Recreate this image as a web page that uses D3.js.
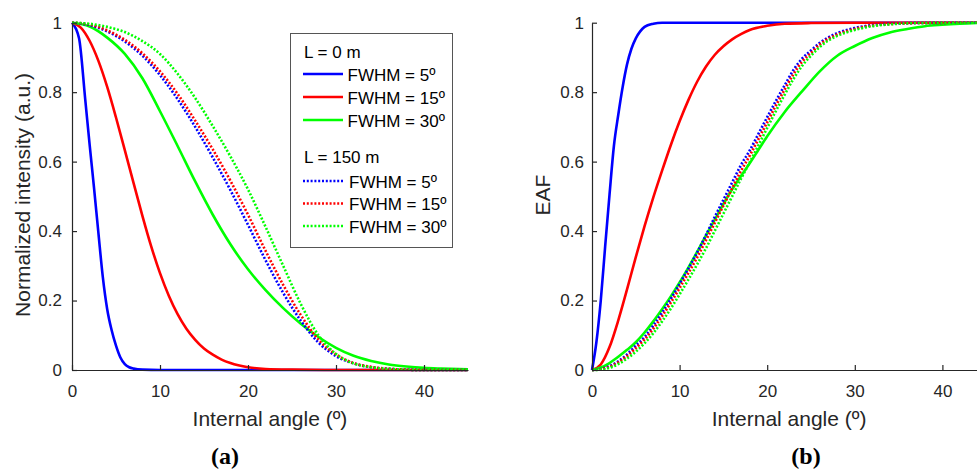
<!DOCTYPE html>
<html>
<head>
<meta charset="utf-8">
<script src="https://cdn.jsdelivr.net/npm/d3@7"></script>
<style>
  body { margin: 0; background: #fff; }
  svg { display: block; }
</style>
</head>
<body>
<div id="chart"></div>
<script>
// ---- data ----
const xTicks = [0, 10, 20, 30, 40];
const yTicks = [0, 0.2, 0.4, 0.6, 0.8, 1];

// (a) normalized intensity vs internal angle, [angle, value]
const intL0_5 = [[0,1],[0.8,0.955],[1.5,0.78],[2,0.65],[2.5,0.525],[3,0.395],[3.5,0.268],[4,0.175],[4.5,0.115],[5,0.07],[5.5,0.036],[6,0.017],[6.5,0.008],[7,0.004],[8,0.001],[10,0],[45,0]];
const intL0_15 = [[0,1],[1,0.986],[2,0.948],[3,0.89],[4,0.815],[5,0.727],[6,0.633],[7,0.538],[8,0.444],[9,0.356],[10,0.279],[11,0.214],[12,0.161],[13,0.119],[14,0.087],[15,0.062],[16,0.044],[17,0.03],[18,0.02],[20,0.008],[22,0.003],[25,0.001],[30,0],[45,0]];
const intL0_30 = [[0,1],[2,0.989],[4,0.957],[6,0.91],[8,0.84],[10,0.745],[12,0.645],[14,0.543],[16,0.447],[18,0.362],[20,0.29],[22,0.23],[24,0.178],[26,0.133],[28,0.095],[30,0.064],[32,0.041],[34,0.026],[36,0.016],[38,0.01],[40,0.006],[42,0.004],[45,0.002]];
const intL150_5 = [[0,1],[2,0.993],[4,0.975],[6,0.946],[8,0.905],[10,0.849],[12,0.78],[14,0.7],[16,0.612],[18,0.518],[20,0.418],[22,0.316],[24,0.222],[26,0.142],[28,0.079],[30,0.04],[32,0.019],[34,0.008],[37,0.002],[40,0],[45,0]];
const intL150_15 = [[0,1],[2,0.995],[4,0.978],[6,0.951],[8,0.912],[10,0.86],[12,0.795],[14,0.718],[16,0.635],[18,0.545],[20,0.447],[22,0.343],[24,0.245],[26,0.158],[28,0.088],[30,0.045],[32,0.02],[34,0.009],[37,0.002],[40,0],[45,0]];
const intL150_30 = [[0,1],[2,0.997],[4,0.988],[6,0.973],[8,0.947],[10,0.91],[12,0.853],[14,0.783],[16,0.702],[18,0.615],[20,0.52],[22,0.412],[24,0.3],[26,0.19],[28,0.1],[30,0.046],[32,0.019],[34,0.008],[37,0.002],[40,0],[45,0]];

// (b) EAF vs internal angle, [angle, value]
const eafL0_5 = [[0,0],[0.5,0.08],[1,0.2],[1.5,0.355],[2,0.505],[2.5,0.645],[3,0.735],[3.5,0.815],[4,0.88],[4.5,0.925],[5,0.955],[5.5,0.975],[6,0.988],[7,0.997],[8,1],[45,1]];
const eafL0_15 = [[0,0],[1,0.016],[2,0.066],[3,0.143],[4,0.232],[5,0.325],[6,0.414],[7,0.497],[8,0.574],[9,0.648],[10,0.716],[11,0.777],[12,0.83],[13,0.873],[14,0.907],[15,0.932],[16,0.952],[17,0.967],[18,0.979],[20,0.991],[22,0.997],[25,0.999],[30,1],[45,1]];
const eafL0_30 = [[0,0],[1,0.007],[2,0.02],[3,0.038],[4,0.058],[5,0.08],[6,0.108],[7,0.14],[8,0.175],[9,0.212],[10,0.252],[11,0.295],[12,0.34],[13,0.387],[14,0.432],[15,0.478],[16,0.52],[17,0.558],[18,0.595],[19,0.634],[20,0.673],[22,0.743],[24,0.803],[26,0.86],[28,0.905],[30,0.933],[32,0.956],[34,0.972],[36,0.982],[38,0.99],[40,0.994],[42,0.997],[45,1]];
const eafL150_5 = [[0,0],[1,0.003],[2,0.011],[3,0.025],[4,0.045],[5,0.07],[6,0.095],[7,0.128],[8,0.165],[9,0.205],[10,0.248],[11,0.292],[12,0.338],[13,0.388],[14,0.44],[15,0.49],[16,0.54],[17,0.59],[18,0.632],[19,0.68],[20,0.728],[21,0.775],[22,0.82],[23,0.864],[24,0.897],[25,0.92],[26,0.942],[27,0.958],[28,0.97],[30,0.985],[32,0.993],[34,0.997],[37,0.999],[45,1]];
const eafL150_15 = [[0,0],[1,0.002],[2,0.009],[3,0.022],[4,0.04],[5,0.063],[6,0.088],[7,0.119],[8,0.155],[9,0.194],[10,0.236],[11,0.279],[12,0.324],[13,0.373],[14,0.423],[15,0.473],[16,0.523],[17,0.573],[18,0.617],[19,0.665],[20,0.713],[21,0.762],[22,0.808],[23,0.852],[24,0.888],[25,0.913],[26,0.937],[27,0.954],[28,0.966],[30,0.982],[32,0.992],[34,0.996],[37,0.999],[45,1]];
const eafL150_30 = [[0,0],[1,0.001],[2,0.006],[3,0.017],[4,0.033],[5,0.053],[6,0.077],[7,0.106],[8,0.14],[9,0.177],[10,0.218],[11,0.26],[12,0.304],[13,0.35],[14,0.4],[15,0.45],[16,0.5],[17,0.55],[18,0.598],[19,0.647],[20,0.697],[21,0.746],[22,0.793],[23,0.838],[24,0.876],[25,0.905],[26,0.93],[27,0.949],[28,0.962],[30,0.979],[32,0.99],[34,0.995],[37,0.999],[45,1]];

const seriesNames = ["FWHM = 5º", "FWHM = 15º", "FWHM = 30º"];
const groupNames = ["L = 0 m", "L = 150 m"];
const colors = ["#0000ff", "#ff0000", "#00ff00"];

const W = 977, H = 470;
const FONT = "'Liberation Sans', Arial, sans-serif";
const INK = "#262626";

const svg = d3.select("#chart").append("svg")
    .attr("width", W)
    .attr("height", H);

function drawPanel(opts) {
    let x = d3.scaleLinear().domain([0, 45]).range([opts.left, opts.left + 45 * opts.pxPerDeg]);
    let y = d3.scaleLinear().domain([0, 1]).range([370, 22.7]);

    let g = svg.append("g");

    let line = d3.line()
        .x(d => x(d[0]))
        .y(d => y(d[1]))
        .curve(d3.curveMonotoneX);

    opts.solid.forEach((s, i) => {
        g.append("path")
            .datum(s)
            .attr("fill", "none")
            .attr("stroke", colors[i])
            .attr("stroke-width", 2.6)
            .attr("d", line);
    });
    opts.dotted.forEach((s, i) => {
        g.append("path")
            .datum(s)
            .attr("fill", "none")
            .attr("stroke", colors[i])
            .attr("stroke-width", 2.6)
            .attr("stroke-dasharray", "2,1.8")
            .attr("d", line);
    });

    // axes, MATLAB style ticks pointing inward
    let xAxis = d3.axisBottom(x).tickValues(xTicks).tickSizeInner(-5).tickSizeOuter(0).tickPadding(15);
    let yAxis = d3.axisLeft(y).tickValues(yTicks).tickSizeInner(-5).tickSizeOuter(0)
        .tickPadding(opts.yPad).tickFormat(d3.format("~g"));

    let gx = g.append("g").attr("transform", "translate(0,370)").call(xAxis);
    let gy = g.append("g").attr("transform", "translate(" + opts.left + ",0)").call(yAxis);

    [gx, gy].forEach(a => {
        a.select(".domain").attr("stroke", INK).attr("stroke-width", 1.2);
        a.selectAll(".tick line").attr("stroke", INK).attr("stroke-width", 1.2);
        a.selectAll(".tick text")
            .attr("fill", INK)
            .style("font-family", FONT)
            .style("font-size", "17px");
    });

    g.append("text")
        .attr("x", (x.range()[0] + x.range()[1]) / 2)
        .attr("y", 426)
        .attr("text-anchor", "middle")
        .attr("fill", INK)
        .style("font-family", FONT)
        .style("font-size", "21px")
        .text("Internal angle (º)");

    g.append("text")
        .attr("transform", "translate(" + opts.yLabelX + ",195) rotate(-90)")
        .attr("text-anchor", "middle")
        .attr("fill", INK)
        .style("font-family", FONT)
        .style("font-size", "21px")
        .text(opts.yLabel);

    g.append("text")
        .attr("x", opts.capX)
        .attr("y", 464)
        .attr("text-anchor", "middle")
        .attr("fill", "#000")
        .style("font-family", "'Liberation Serif', 'DejaVu Serif', serif")
        .style("font-weight", "700")
        .style("font-size", "24px")
        .text(opts.caption);
}

drawPanel({
    left: 72, pxPerDeg: 8.8, yPad: 10,
    solid: [intL0_5, intL0_15, intL0_30],
    dotted: [intL150_5, intL150_15, intL150_30],
    yLabel: "Normalized intensity (a.u.)", yLabelX: 29.5,
    caption: "(a)", capX: 225
});

drawPanel({
    left: 592, pxPerDeg: 8.76, yPad: 8,
    solid: [eafL0_5, eafL0_15, eafL0_30],
    dotted: [eafL150_5, eafL150_15, eafL150_30],
    yLabel: "EAF", yLabelX: 550,
    caption: "(b)", capX: 806
});

// legend of panel (a)
let legend = svg.append("g");
legend.append("rect")
    .attr("x", 290.5).attr("y", 33.5)
    .attr("width", 162).attr("height", 214)
    .attr("fill", "#fff")
    .attr("stroke", "#555")
    .attr("stroke-width", 1);

let rowY = [[58, 74, 97, 120], [163, 181, 203.5, 226]];
groupNames.forEach((name, gi) => {
    legend.append("text")
        .attr("x", 304).attr("y", rowY[gi][0] + 0.3)
        .style("font-family", FONT)
        .style("font-size", "17px")
        .text(name);
    seriesNames.forEach((s, i) => {
        let yy = rowY[gi][i + 1];
        legend.append("line")
            .attr("x1", 303).attr("x2", 343)
            .attr("y1", yy).attr("y2", yy)
            .attr("stroke", colors[i])
            .attr("stroke-width", 2.6)
            .attr("stroke-dasharray", gi === 1 ? "2,1.8" : null);
        legend.append("text")
            .attr("x", gi === 1 ? 349 : 347.5).attr("y", yy + 6.5)
            .style("font-family", FONT)
            .style("font-size", "17px")
            .text(s);
    });
});
</script>
</body>
</html>
